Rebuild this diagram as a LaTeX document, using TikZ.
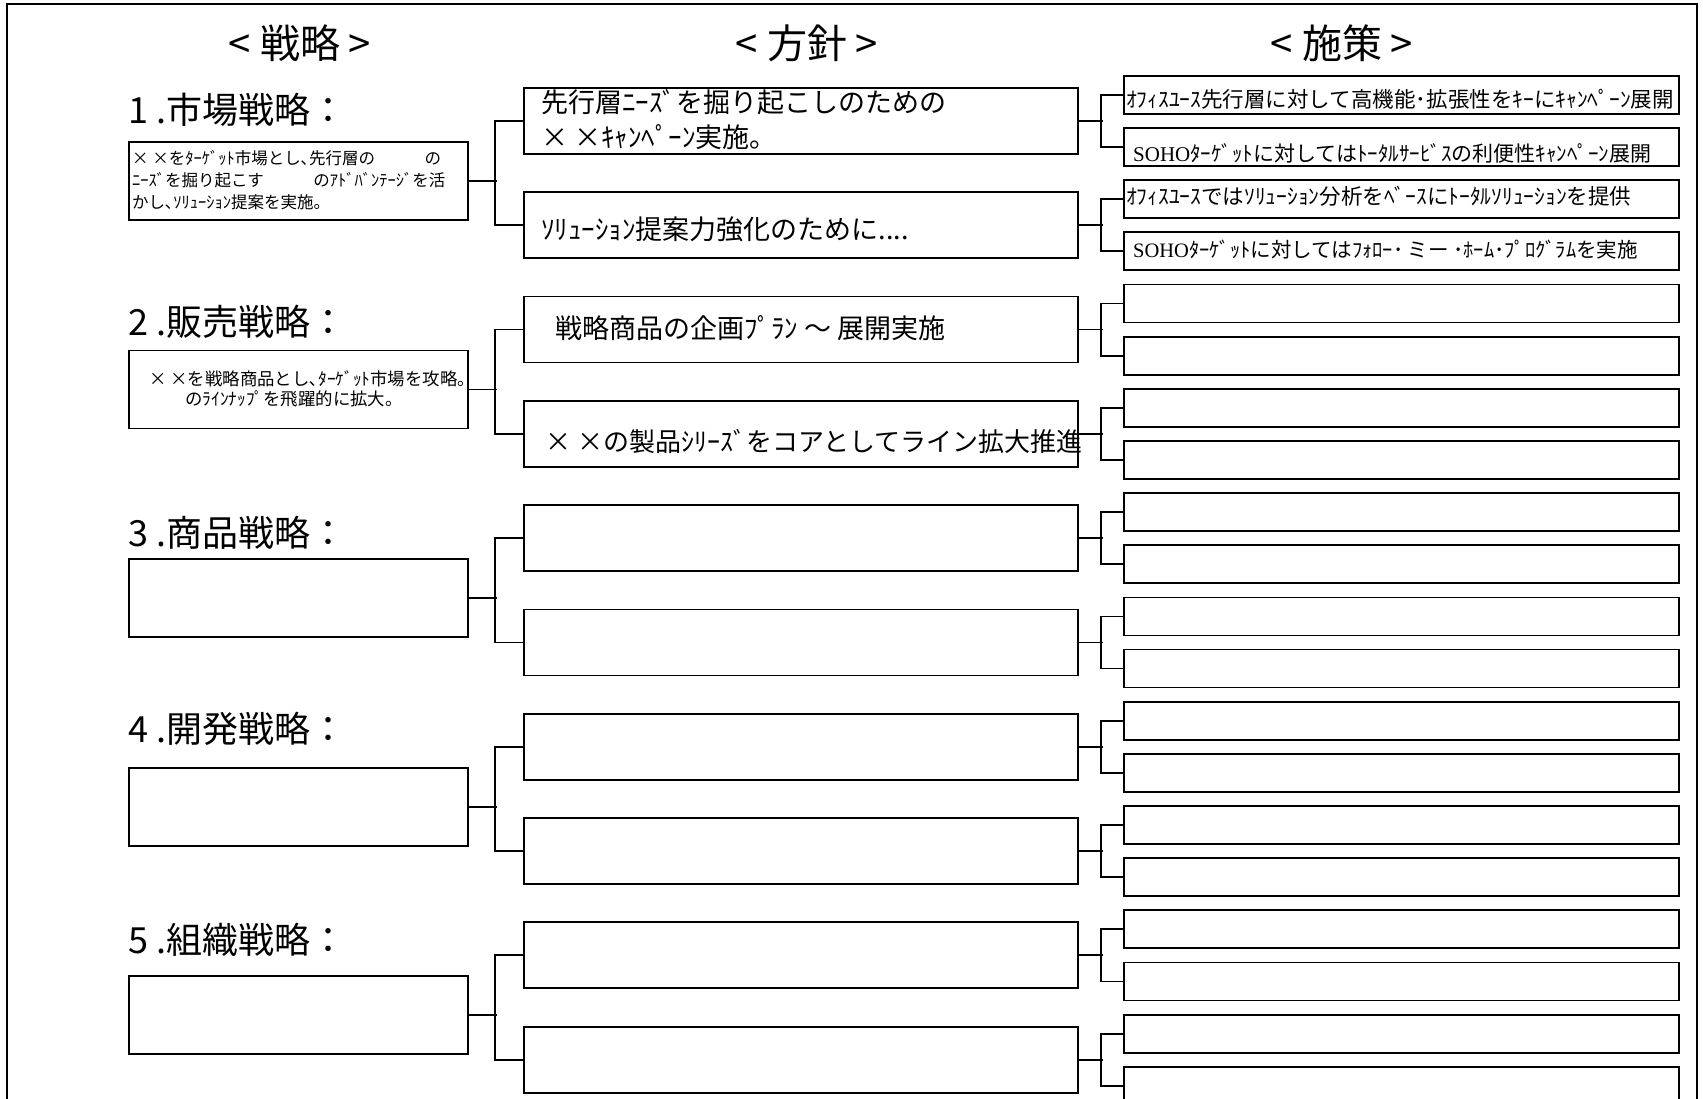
\documentclass[tikz,border=0pt]{standalone}
\usepackage{fontspec}
\setmainfont{Noto Sans CJK JP}
\newfontfamily\soho{Liberation Serif}
\usetikzlibrary{calc}
\begin{document}
\begin{tikzpicture}[x=1pt,y=-1pt,
  box/.style={draw, line width=1.8pt, rectangle, inner sep=0pt, anchor=north west},
  lbox/.style={box, minimum width=339pt, minimum height=78pt},
  mbox/.style={box, minimum width=554pt, minimum height=66pt},
  rbox/.style={box, minimum width=555pt, minimum height=38pt},
  link/.style={line width=1.8pt},
  frame/.style={line width=2.2pt},
  txt/.style={inner sep=0pt, anchor=west, align=left},
  head/.style={inner sep=0pt, font=\fontsize{40}{40}\selectfont},
  title/.style={txt, font=\fontsize{36}{36}\selectfont},
  ltxt/.style={txt, font=\fontsize{16.5}{21.7}\selectfont},
  mtxt/.style={txt, font=\fontsize{27}{35}\selectfont},
  rtxt/.style={txt, font=\fontsize{21.5}{21.5}\selectfont}]
\useasboundingbox (0,0) rectangle (1703,1098);
% outer frame
\draw[frame] (7,1110) -- (7,4) -- (1697,4) -- (1697,1110);
% headers
\node[head] (H1) at (300,43) {< 戦略 >};
\node[head] (H2) at (807,43) {< 方針 >};
\node[head] (H3) at (1342,43) {< 施策 >};
% middle and right columns
\foreach \j in {0,...,9}{
  \pgfmathsetmacro\my{87+104.3*\j}
  \node[mbox] (M\j) at (523,\my) {};
  \pgfmathtruncatemacro\ia{2*\j}
  \pgfmathtruncatemacro\ib{2*\j+1}
  \pgfmathsetmacro\rya{75+52.15*\ia}
  \pgfmathsetmacro\ryb{75+52.15*\ib}
  \node[rbox] (R\ia) at (1123,\rya) {};
  \node[rbox] (R\ib) at (1123,\ryb) {};
  \draw[link] (M\j.east) -- ++(24,0);
  \draw[link] (R\ia.west) -- ++(-22,0) |- (R\ib.west);
}
% left column
\foreach \k/\ty/\t in {0/110/{1 .市場戦略：},1/322/{2 .販売戦略：},2/533/{3 .商品戦略：},3/729/{4 .開発戦略：},4/939.5/{5 .組織戦略：}}{
  \pgfmathsetmacro\ly{141+208.6*\k}
  \node[lbox] (L\k) at (128,\ly) {};
  \node[title] (T\k) at (128,\ty) {\t};
  \pgfmathtruncatemacro\ja{2*\k}
  \pgfmathtruncatemacro\jb{2*\k+1}
  \draw[link] (L\k.east) -- ++(28,0);
  \draw[link] (M\ja.west) -- ++(-28,0) |- (M\jb.west);
}
% texts
\node[ltxt] (L0t) at (132,180) {× ×をﾀｰｹﾞｯﾄ市場とし､先行層の　　　の\\ﾆｰｽﾞを掘り起こす　　　のｱﾄﾞﾊﾞﾝﾃｰｼﾞを活\\かし､ｿﾘｭｰｼｮﾝ提案を実施。};
\node[ltxt, font=\fontsize{17.4}{20}\selectfont] (L1t) at (149,389) {× ×を戦略商品とし､ﾀｰｹﾞｯﾄ市場を攻略。\\\hspace*{36pt}のﾗｲﾝﾅｯﾌﾟを飛躍的に拡大。};
\node[mtxt] (M0t) at (541,119.5) {先行層ﾆｰｽﾞを掘り起こしのための\\× ×ｷｬﾝﾍﾟｰﾝ実施。};
\node[mtxt] (M1t) at (541,229) {ｿﾘｭｰｼｮﾝ提案力強化のために....};
\node[mtxt] (M2t) at (555,328) {戦略商品の企画ﾌﾟﾗﾝ ～ 展開実施};
\node[mtxt, font=\fontsize{26}{26}\selectfont] (M3t) at (545,441) {× ×の製品ｼﾘｰｽﾞをコアとしてライン拡大推進};
\node[rtxt] (R0t) at (1126,99) {ｵﾌｨｽﾕｰｽ先行層に対して高機能･拡張性をｷｰにｷｬﾝﾍﾟｰﾝ展開};
\node[rtxt, font=\fontsize{21}{21}\selectfont] (R1t) at (1133,153) {{\soho SOHO}ﾀｰｹﾞｯﾄに対してはﾄｰﾀﾙｻｰﾋﾞｽの利便性ｷｬﾝﾍﾟｰﾝ展開};
\node[rtxt] (R2t) at (1126,196) {ｵﾌｨｽﾕｰｽではｿﾘｭｰｼｮﾝ分析をﾍﾞｰｽにﾄｰﾀﾙｿﾘｭｰｼｮﾝを提供};
\node[rtxt, font=\fontsize{20.5}{20.5}\selectfont] (R3t) at (1133,250) {{\soho SOHO}ﾀｰｹﾞｯﾄに対してはﾌｫﾛｰ･ ミー ･ﾎｰﾑ･ﾌﾟﾛｸﾞﾗﾑを実施};
\end{tikzpicture}
\end{document}
